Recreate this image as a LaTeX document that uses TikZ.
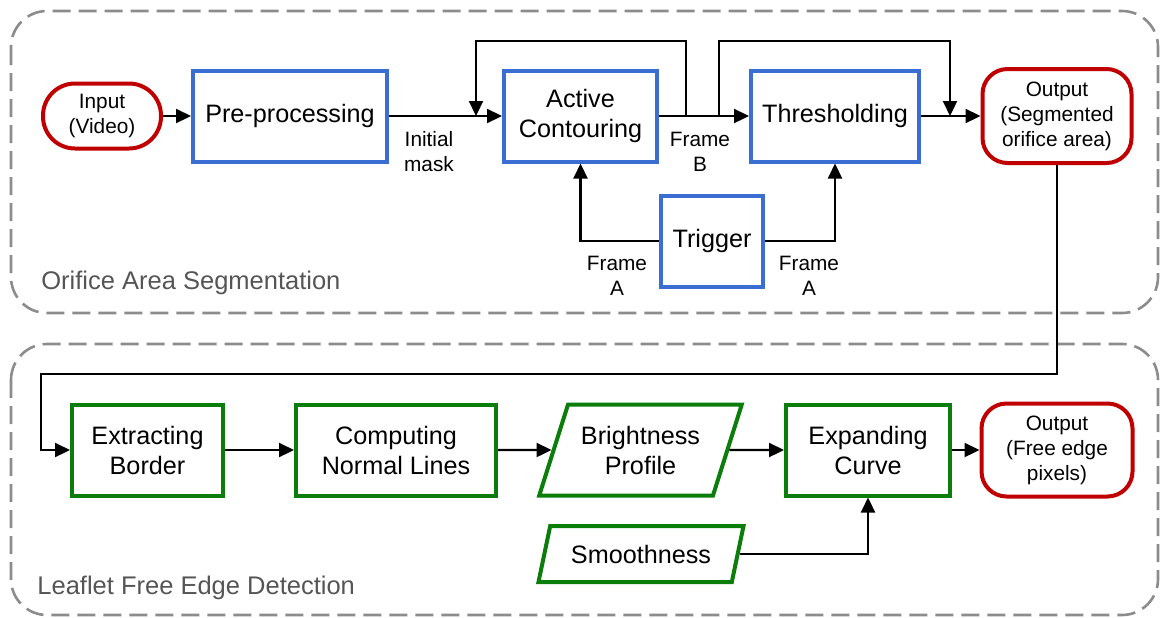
\documentclass[tikz,border=0pt]{standalone}
\usepackage{fontspec}
\setmainfont{Liberation Sans}
\usetikzlibrary{arrows.meta,shapes.geometric}

\definecolor{procblue}{RGB}{58,110,210}
\definecolor{procgreen}{RGB}{10,125,10}
\definecolor{termred}{RGB}{192,0,0}
\definecolor{grpgray}{RGB}{140,140,140}
\definecolor{txtgray}{RGB}{85,85,85}

\tikzset{
	bigtxt/.style={font=\fontsize{12.6}{15}\selectfont, align=center},
	smalltxt/.style={font=\fontsize{10.4}{12.5}\selectfont, align=center},
	proc/.style={draw=procblue, line width=2pt, bigtxt, inner sep=0pt, minimum height=45.5pt},
	gproc/.style={draw=procgreen, line width=2pt, bigtxt, inner sep=0pt, minimum height=45.5pt},
	gdata/.style={gproc, trapezium, trapezium left angle=64, trapezium right angle=116, trapezium stretches=true},
	term/.style={draw=termred, line width=2pt, smalltxt, inner sep=0pt, rounded corners=12.5pt},
	arr/.style={-{Triangle[length=7.5pt,width=7pt]}, line width=1.1pt},
	grp/.style={draw=grpgray, line width=1.3pt, dash pattern=on 9pt off 4pt, rounded corners=18pt},
	grplabel/.style={anchor=west, inner sep=0pt, text=txtgray, font=\fontsize{12.75}{15}\selectfont}
}

\begin{document}
\begin{tikzpicture}[x=0.5pt, y=-0.5pt]
		%%%%% START %%%%%
		\useasboundingbox (0, 0) rectangle (1160, 617);
		
		% the two groups
		\draw[grp] (11, 11) rectangle (1158, 313);
		\draw[grp] (11, 344) rectangle (1158, 615);
		\node[grplabel] (lblseg) at (41, 283) {Orifice Area Segmentation};
		\node[grplabel] (lbledge) at (37, 588) {Leaflet Free Edge Detection};
		
		% segmentation row
		\node[term, minimum width=59pt, minimum height=32.5pt, rounded corners=16pt] (inp) at (102, 116) {Input\\(Video)};
		\node[proc, minimum width=97pt] (pre) at (290, 116) {Pre-processing};
		\node[proc, minimum width=76.5pt] (ac) at (580.5, 116) {Active\\Contouring};
		\node[proc, minimum width=84pt] (th) at (835, 116) {Thresholding};
		\node[term, minimum width=74.5pt, minimum height=47pt] (outseg) at (1057, 116) {Output\\(Segmented\\orifice area)};
		\node[proc, minimum width=51pt] (trig) at (712, 241) {Trigger};
		
		\node[smalltxt] (lblmask) at (429, 152) {Initial\\mask};
		\node[smalltxt] (lblfb) at (700, 152) {Frame\\B};
		\node[smalltxt] (lblfa1) at (617, 276) {Frame\\A};
		\node[smalltxt] (lblfa2) at (809, 276) {Frame\\A};
		
		\coordinate (loopa) at (686, 116);
		\coordinate (loopae) at (476, 116);
		\coordinate (loopb) at (719, 116);
		\coordinate (loopbe) at (950, 116);
		
		\draw[arr] (inp) -- (pre);
		\draw[arr] (pre) -- (ac);
		\draw[arr] (ac) -- (th);
		\draw[arr] (th) -- (outseg);
		\draw[arr] (loopa) -- ++(0, -75) -| (loopae);
		\draw[arr] (loopb) -- ++(0, -75) -| (loopbe);
		\draw[arr] (trig.west) -| (ac.south);
		\draw[arr] (trig.east) -| (th.south);
		
		% edge detection row
		\node[gproc, minimum width=75.5pt] (ebord) at (147.5, 450) {Extracting\\Border};
		\node[gproc, minimum width=100pt] (normals) at (396, 450) {Computing\\Normal Lines};
		\node[gdata, minimum width=101.5pt] (bright) at (640.5, 450) {Brightness\\Profile};
		\node[gproc, minimum width=82pt] (expand) at (868, 450) {Expanding\\Curve};
		\node[term, minimum width=75.5pt, minimum height=46.5pt] (outedge) at (1057, 450) {Output\\(Free edge\\pixels)};
		\node[gdata, minimum width=103pt, minimum height=28pt] (smooth) at (641, 554) {Smoothness};
		
		\draw[arr] (outseg.south) |- (41, 374) |- (ebord.west);
		\draw[arr] (ebord) -- (normals);
		\draw[arr] (normals) -- (bright);
		\draw[arr] (bright) -- (expand);
		\draw[arr] (expand) -- (outedge);
		\draw[arr] (smooth) -| (expand.south);
		
		%%%%% END %%%%%
	\end{tikzpicture}
\end{document}
